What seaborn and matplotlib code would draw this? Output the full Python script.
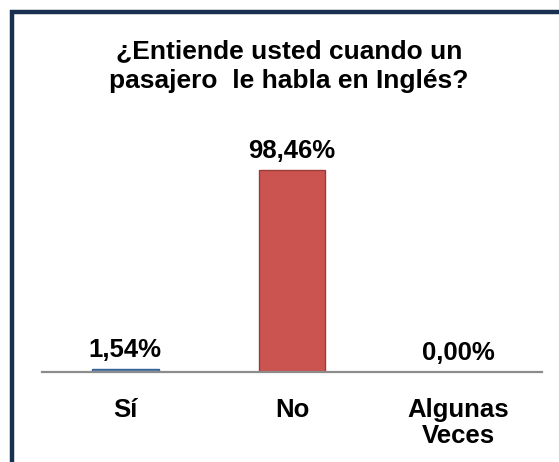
import matplotlib
matplotlib.use("Agg")
import matplotlib.pyplot as plt
import seaborn as sns
import pandas as pd
from matplotlib.patches import Rectangle

categories = ["Sí", "No", "Algunas\nVeces"]
values = [1.54, 98.46, 0.00]
labels = ["1,54%", "98,46%", "0,00%"]
colors = ["#4F81BD", "#CB5350", "#9BBB59"]
title = "¿Entiende usted cuando un\npasajero  le habla en Inglés?"

sns.set_theme(style="white")
plt.rcParams['font.family'] = ['Liberation Sans', 'DejaVu Sans']

W, H = 559, 462
fig = plt.figure(figsize=(W / 100, H / 100), dpi=100)
fig.patch.set_facecolor("white")
ax = fig.add_axes([42 / W, (H - 372) / H, 500 / W, 205 / H])

df = pd.DataFrame({"cat": categories, "val": values})
sns.barplot(data=df, x="cat", y="val", hue="cat", palette=colors, legend=False,
            width=0.4, ax=ax, saturation=1)
edge = ["#3A6292", "#9A3B38", "#7A9A40"]
for p, ec in zip(ax.patches, edge):
    p.set_edgecolor(ec)
    p.set_linewidth(1.0)
ax.set_ylim(0, 100)
ax.set_xlim(-0.5, 2.5)
ax.set_yticks([])
ax.set_xlabel("")
ax.set_ylabel("")
for s in ["top", "right", "left"]:
    ax.spines[s].set_visible(False)
ax.spines["bottom"].set_color("#8C8C8C")
ax.spines["bottom"].set_linewidth(1.6)
ax.tick_params(axis="x", length=0, pad=19, labelsize=18.5)
for t in ax.get_xticklabels():
    t.set_fontweight("bold")
    t.set_color("black")
    t.set_linespacing(1.1)

for i, (v, lab) in enumerate(zip(values, labels)):
    ax.annotate(lab, (i, v), xytext=(0, 5), textcoords="offset points",
                ha="center", va="bottom", fontsize=18.5, fontweight="bold", color="black")

fig.text(289 / W, (H - 66) / H, title, ha="center", va="center", fontsize=19,
         fontweight="bold", color="black", linespacing=1.3)

fig.add_artist(Rectangle((12 / W, -0.1), 1.2, (H - 12) / H + 0.1, transform=fig.transFigure,
                         fill=False, edgecolor="#17304F", linewidth=3.2))

fig.savefig("out.png", dpi=100, facecolor="white")
